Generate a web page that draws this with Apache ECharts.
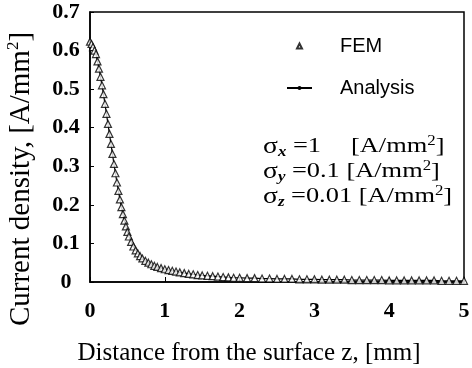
<!DOCTYPE html>
<html>
<head>
<meta charset="utf-8">
<title>Current density</title>
<script src="https://cdn.jsdelivr.net/npm/echarts@6/dist/echarts.min.js"></script>
<style>
  html, body { margin: 0; padding: 0; background: #fff; }
  #chart { width: 472px; height: 368px; }
</style>
</head>
<body>
<div id="chart"></div>
<script>
// FEM nodes: distance from the surface [mm] and current density [A/mm2]
var femZ = [
  0.00, 0.02, 0.04, 0.06, 0.08, 0.10, 0.12, 0.14, 0.16, 0.18,
  0.20, 0.22, 0.24, 0.26, 0.28, 0.30, 0.32, 0.34, 0.36, 0.38,
  0.40, 0.42, 0.44, 0.46, 0.48, 0.50, 0.52, 0.55, 0.58, 0.61,
  0.64, 0.67, 0.70, 0.74, 0.78, 0.82, 0.86, 0.90, 0.95, 1.00,
  1.05, 1.10, 1.15, 1.20, 1.26, 1.32, 1.38, 1.44, 1.50, 1.57,
  1.64, 1.71, 1.78, 1.85, 1.92, 2.00, 2.10, 2.20, 2.30, 2.40,
  2.50, 2.60, 2.70, 2.80, 2.90, 3.00, 3.10, 3.20, 3.30, 3.40,
  3.50, 3.60, 3.70, 3.80, 3.90, 4.00, 4.10, 4.20, 4.30, 4.40,
  4.50, 4.60, 4.70, 4.80, 4.90, 5.00
]
var femJ = [
  0.623, 0.617, 0.609, 0.600, 0.591, 0.572, 0.553, 0.532, 0.510, 0.487,
  0.462, 0.436, 0.410, 0.384, 0.358, 0.332, 0.306, 0.282, 0.258, 0.236,
  0.214, 0.194, 0.176, 0.159, 0.144, 0.130, 0.118, 0.104, 0.092, 0.082,
  0.074, 0.067, 0.061, 0.055, 0.050, 0.046, 0.042, 0.039, 0.036, 0.033,
  0.031, 0.029, 0.027, 0.025, 0.023, 0.021, 0.020, 0.018, 0.017, 0.016,
  0.015, 0.014, 0.013, 0.012, 0.011, 0.011, 0.010, 0.010, 0.009, 0.009,
  0.008, 0.008, 0.008, 0.007, 0.007, 0.007, 0.006, 0.006, 0.006, 0.006,
  0.005, 0.005, 0.005, 0.005, 0.005, 0.004, 0.004, 0.004, 0.004, 0.004,
  0.004, 0.004, 0.003, 0.003, 0.003, 0.003
]
var xTicks = [0, 1, 2, 3, 4, 5]
var yTicks = [0, 0.1, 0.2, 0.3, 0.4, 0.5, 0.6, 0.7]
var seriesNames = ['FEM', 'Analysis']

var serif = '"Liberation Serif", "Times New Roman", serif'
var sans = '"Liberation Sans", Arial, sans-serif'

var femData = femZ.map(function(z, i) {
  return [z, femJ[i]]
})

var chart = echarts.init(document.getElementById('chart'))

chart.setOption({
  backgroundColor: '#fff',
  animation: false,
  grid: {
    left: 90,
    right: 8,
    top: 12,
    bottom: 86,
    containLabel: false,
    outerBoundsMode: 'none',
    show: true,
    borderColor: '#000',
    borderWidth: 1.5
  },
  legend: {
    orient: 'vertical',
    left: 281,
    top: 31,
    itemWidth: 25,
    itemHeight: 5,
    itemGap: 22,
    data: [{
      name: seriesNames[0],
      // small triangle in the middle of a 25x5 box
      icon: 'path://M0,5 M25,0 M10,5 L12.5,0 L15,5 Z'
    }, {
      name: seriesNames[1]
    }],
    textStyle: {
      fontFamily: sans,
      fontSize: 20,
      lineHeight: 20,
      color: '#000',
      padding: [0, 0, 0, 23]
    }
  },
  xAxis: {
    type: 'value',
    min: xTicks[0],
    max: xTicks[xTicks.length - 1],
    interval: 1,
    name: 'Distance from the surface z, [mm]',
    nameLocation: 'middle',
    nameGap: 59,
    nameTextStyle: {
      fontFamily: serif,
      fontSize: 25,
      color: '#000',
      padding: [0, 56, 0, 0]
    },
    axisLine: { lineStyle: { color: '#000', width: 1.5 } },
    axisTick: { inside: true, length: 5, lineStyle: { color: '#000' } },
    splitLine: { show: false },
    axisLabel: {
      margin: 18,
      fontFamily: serif,
      fontWeight: 'bold',
      fontSize: 22,
      color: '#000'
    }
  },
  yAxis: {
    type: 'value',
    min: yTicks[0],
    max: yTicks[yTicks.length - 1],
    interval: 0.1,
    name: 'Current density, [A/mm{sup|2}]',
    nameLocation: 'middle',
    nameGap: 53,
    nameTextStyle: {
      fontFamily: serif,
      fontSize: 29,
      color: '#000',
      lineHeight: 32,
      padding: [0, 64, 0, 0],
      rich: {
        sup: { fontFamily: serif, fontSize: 17, lineHeight: 17, verticalAlign: 'top', color: '#000' }
      }
    },
    axisLine: { lineStyle: { color: '#000', width: 1.5 } },
    axisTick: { inside: true, length: 4, lineStyle: { color: '#000' } },
    splitLine: { show: false },
    axisLabel: {
      margin: 24,
      align: 'center',
      fontFamily: serif,
      fontWeight: 'bold',
      fontSize: 22,
      color: '#000',
      formatter: function(value) {
        return value === 0 ? '0' : value.toFixed(1)
      }
    }
  },
  graphic: [{
    type: 'text',
    x: 263,
    y: 134,
    scaleX: 1.2,
    style: {
      text: '{s|σ}{sub|x}{t| =1}{g|}{t|[A/mm}{sup|2}{t|]}\n' +
        '{s|σ}{sub|y}{t| =0.1 [A/mm}{sup|2}{t|]}\n' +
        '{s|σ}{sub|z}{t| =0.01 [A/mm}{sup|2}{t|]}',
      rich: {
        s: { fontFamily: serif, fontSize: 23, lineHeight: 25, color: '#000' },
        t: { fontFamily: serif, fontSize: 22, lineHeight: 25, color: '#000' },
        g: { width: 25, lineHeight: 25 },
        sub: { fontFamily: serif, fontSize: 14, fontStyle: 'italic', fontWeight: 'bold', lineHeight: 14, verticalAlign: 'bottom', color: '#000' },
        sup: { fontFamily: serif, fontSize: 14, lineHeight: 14, verticalAlign: 'top', color: '#000' }
      }
    }
  }],
  series: [{
    name: seriesNames[1],
    type: 'line',
    data: femData,
    symbol: 'none',
    itemStyle: { color: '#000' },
    lineStyle: { color: '#000', width: 1.2 },
    z: 2
  }, {
    name: seriesNames[0],
    type: 'scatter',
    data: femData,
    symbol: 'triangle',
    symbolSize: 7,
    itemStyle: {
      color: '#fff',
      borderColor: '#000',
      borderWidth: 1.2
    },
    z: 3
  }]
})
</script>
</body>
</html>
